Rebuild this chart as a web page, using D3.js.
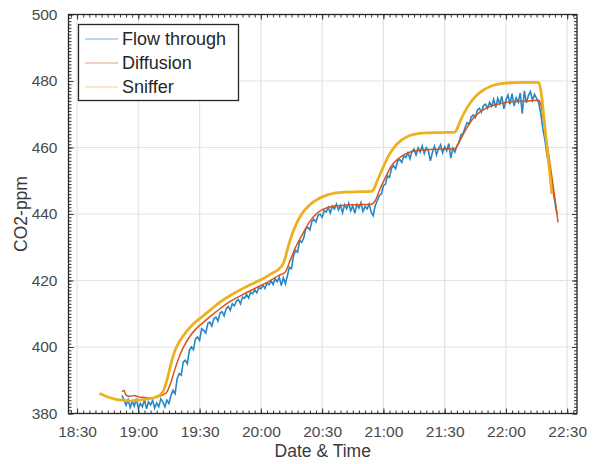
<!DOCTYPE html>
<html><head><meta charset="utf-8">
<script src="https://cdn.jsdelivr.net/npm/d3@7"></script>
<style>
body{margin:0;background:#fff}
svg{display:block}
text{font-family:"Liberation Sans",Arial,Helvetica,sans-serif}
</style>
</head><body>
<svg id="chart" width="597" height="464"></svg>
<script>
// ---------------- DATA ----------------
const seriesNames = ["Flow through", "Diffusion", "Sniffer"];
const seriesColors = ["#0072BD", "#D95319", "#EDB120"];
const xTickLabels = ["18:30","19:00","19:30","20:00","20:30","21:00","21:30","22:00","22:30"];
const yTickValues = [380, 400, 420, 440, 460, 480, 500];
const xDomain = ["18:25.8", "22:34.8"];
const yDomain = [380, 500];

// Flow through: one reading per minute starting at flowStart
const flowStart = "18:52";
const flowValues = [
  385.5, 384.0, 382.5, 384.2, 381.8, 383.6, 382.2, 384.5, 381.5, 383.0,
  382.0, 384.2, 381.4, 383.5, 382.6, 384.0, 381.6, 383.2, 382.0, 384.4,
  383.5, 382.0, 384.0, 383.0, 385.5, 387.0, 386.0, 390.5, 392.0, 391.5,
  395.5, 396.0, 395.0, 399.0, 400.0, 399.2, 402.5, 403.0, 402.0, 405.5,
  405.0, 404.2, 407.0, 407.5, 406.3, 408.6, 409.0, 407.8, 410.2, 410.6,
  409.4, 411.5, 412.2, 411.0, 413.0, 412.4, 413.8, 414.3, 413.0, 415.0,
  414.6, 415.8, 414.7, 416.5, 416.0, 417.2, 416.3, 417.8, 417.5, 418.6,
  417.6, 419.2, 418.7, 419.9, 418.8, 420.5, 419.6, 421.0, 418.5, 420.8,
  419.0, 421.5, 424.0, 423.5, 427.5, 429.0, 428.5, 432.0, 431.5, 432.8,
  435.5, 436.0, 435.2, 437.8, 438.4, 437.6, 439.6, 440.0, 439.0, 441.0,
  440.6, 442.0, 440.3, 442.4, 441.5, 443.0, 441.2, 442.6, 440.4, 442.8,
  441.6, 443.2, 441.0, 442.5, 440.2, 442.9, 441.8, 443.4, 440.8, 442.3,
  441.5, 443.0, 440.6, 439.5, 442.5, 444.0, 445.5, 446.0, 448.5, 449.0,
  451.5, 451.0, 453.8, 454.5, 453.6, 456.0, 456.4, 455.5, 457.5, 457.0,
  458.4, 456.6, 458.8, 459.5, 457.8, 459.9, 458.6, 460.5, 458.2, 460.0,
  459.0, 456.0, 458.5, 460.4, 457.8, 459.6, 460.8, 458.4, 460.2, 459.0,
  461.2, 456.8, 459.8, 458.6, 460.5, 461.5, 463.8, 464.2, 466.0, 467.5,
  467.0, 469.2, 469.8, 469.0, 471.2, 471.8, 470.6, 472.6, 473.0, 471.8,
  473.6, 472.4, 474.5, 472.0, 474.8, 473.2, 475.4, 471.6, 474.2, 475.8,
  473.0, 476.2, 472.5, 475.0, 473.6, 476.4, 470.2, 477.0, 473.4, 475.6,
  476.8, 474.2, 476.0, 474.8, 473.5, 470.5, 466.0, 462.5, 458.0, 455.0,
  450.5, 447.5, 443.5, 440.0
];

const diffusionTimes = [
  "18:52","18:53","18:54","18:56","18:58","19:00","19:03","19:06","19:09","19:12",
  "19:14","19:16","19:18","19:20","19:22","19:25","19:28","19:32","19:36","19:40",
  "19:45","19:50","19:55","20:00","20:05","20:09","20:11","20:12","20:14","20:17",
  "20:20","20:24","20:28","20:32","20:36","20:42","20:48","20:54","20:56","20:58",
  "21:01","21:04","21:07","21:10","21:14","21:20","21:28","21:35","21:37","21:40",
  "21:44","21:48","21:52","21:58","22:04","22:10","22:16","22:17","22:19","22:21",
  "22:23","22:25","22:25.5"
];
const diffusionValues = [
  386.5, 387.0, 385.5, 385.2, 385.4, 385.0, 384.8, 384.6, 384.9, 385.6,
  386.5, 389.5, 393.5, 397.0, 399.8, 403.0, 405.3, 407.5, 409.6, 411.5,
  413.7, 415.4, 417.0, 418.5, 420.1, 421.6, 422.1, 422.6, 425.5, 430.0,
  433.5, 437.8, 440.5, 441.8, 442.4, 442.7, 442.8, 442.9, 444.0, 447.0,
  451.0, 454.5, 456.5, 457.8, 458.8, 459.3, 459.5, 459.6, 461.5, 465.0,
  468.8, 471.0, 472.3, 473.3, 473.8, 474.0, 474.2, 473.0, 466.0, 457.5,
  449.0, 440.0, 437.5
];

const snifferTimes = [
  "18:41","18:44","18:48","18:52","18:56","19:00","19:04","19:08","19:11","19:12",
  "19:14","19:16","19:18","19:20","19:24","19:28","19:32","19:36","19:40","19:45",
  "19:50","19:55","20:00","20:05","20:10","20:11","20:12","20:14","20:17","20:20",
  "20:24","20:28","20:32","20:36","20:42","20:48","20:54","20:55","20:57","21:00",
  "21:03","21:06","21:09","21:13","21:17","21:22","21:28","21:35","21:36","21:38",
  "21:41","21:45","21:49","21:53","21:58","22:04","22:10","22:16","22:17","22:19",
  "22:21","22:22.5"
];
const snifferValues = [
  386.0, 385.2, 384.4, 384.0, 383.8, 384.0, 384.3, 384.8, 385.8, 386.5,
  390.0, 395.0, 399.0, 401.5, 405.0, 407.5, 409.5, 411.5, 413.5, 415.5,
  417.2, 418.8, 420.2, 422.0, 424.2, 425.2, 427.0, 431.5, 436.5, 440.0,
  442.8, 444.5, 445.6, 446.3, 446.6, 446.7, 446.8, 447.2, 450.0, 454.2,
  458.0, 460.6, 462.3, 463.6, 464.2, 464.4, 464.5, 464.6, 465.5, 468.5,
  472.0, 475.3, 477.3, 478.5, 479.2, 479.5, 479.6, 479.6, 477.5, 466.5,
  455.0, 446.0
];

// ---------------- HELPERS ----------------
function parseT(s) {
  const [h, m] = s.split(":").map(Number);
  return new Date(2018, 0, 1, h, 0, 0, Math.round(m * 60000));
}
const flowT0 = parseT(flowStart);
const flowData = flowValues.map((v, i) => ({ t: d3.timeMinute.offset(flowT0, i), v }));
const diffData = diffusionTimes.map((s, i) => ({ t: parseT(s), v: diffusionValues[i] }));
const sniffData = snifferTimes.map((s, i) => ({ t: parseT(s), v: snifferValues[i] }));

// ---------------- LAYOUT ----------------
const L = 68.5, R = 577, T = 14.5, B = 413.5;
const svg = d3.select("#chart");
const x = d3.scaleTime().domain(xDomain.map(parseT)).range([L, R]);
const y = d3.scaleLinear().domain(yDomain).range([B, T]);

svg.append("rect").attr("width", 597).attr("height", 464).attr("fill", "#fff");

// grid
const xMajor = xTickLabels.map(parseT);
const g = svg.append("g");
g.selectAll("line.gx").data(xMajor).join("line")
  .attr("x1", d => x(d)).attr("x2", d => x(d)).attr("y1", T).attr("y2", B)
  .attr("stroke", "#e3e3e3").attr("stroke-width", 1.2);
g.selectAll("line.gy").data(yTickValues).join("line")
  .attr("y1", d => y(d)).attr("y2", d => y(d)).attr("x1", L).attr("x2", R)
  .attr("stroke", "#e3e3e3").attr("stroke-width", 1.2);

// clip
svg.append("clipPath").attr("id", "clip").append("rect")
  .attr("x", L).attr("y", T).attr("width", R - L).attr("height", B - T);

const line = d3.line().x(d => x(d.t)).y(d => y(d.v));
const smooth = d3.line().x(d => x(d.t)).y(d => y(d.v)).curve(d3.curveMonotoneX);
const plot = svg.append("g").attr("clip-path", "url(#clip)");
plot.append("path").datum(flowData).attr("d", line)
  .attr("fill", "none").attr("stroke", seriesColors[0]).attr("stroke-width", 1.6).attr("stroke-opacity", 0.85);
plot.append("path").datum(diffData).attr("d", smooth)
  .attr("fill", "none").attr("stroke", seriesColors[1]).attr("stroke-width", 1.5);
plot.append("path").datum(sniffData).attr("d", smooth)
  .attr("fill", "none").attr("stroke", seriesColors[2]).attr("stroke-width", 2.8);

// axes: minor ticks (inward) on all sides
const tickCol = "#333";
const xMinor = d3.timeMinute.every(3).range(parseT(xDomain[0]), parseT(xDomain[1]));
const yMinor = d3.range(yDomain[0], yDomain[1] + 1, 1);

function styleAxis(sel) {
  sel.select(".domain").remove();
  sel.selectAll(".tick line").attr("stroke", tickCol).attr("stroke-width", 1);
  sel.selectAll(".tick text").attr("fill", "#4a4a4a").style("font-size", "15.5px")
    .style("font-family", '"Liberation Sans", Arial, sans-serif');
}

svg.append("g").attr("transform", `translate(0,${B})`)
  .call(d3.axisBottom(x).tickValues(xMinor).tickFormat("").tickSizeInner(-3).tickSizeOuter(0)).call(styleAxis);
svg.append("g").attr("transform", `translate(0,${T})`)
  .call(d3.axisTop(x).tickValues(xMinor).tickFormat("").tickSizeInner(-3).tickSizeOuter(0)).call(styleAxis);
svg.append("g").attr("transform", `translate(${L},0)`)
  .call(d3.axisLeft(y).tickValues(yMinor).tickFormat("").tickSizeInner(-3).tickSizeOuter(0)).call(styleAxis);
svg.append("g").attr("transform", `translate(${R},0)`)
  .call(d3.axisRight(y).tickValues(yMinor).tickFormat("").tickSizeInner(-3).tickSizeOuter(0)).call(styleAxis);

// major ticks with labels
svg.append("g").attr("transform", `translate(0,${B})`)
  .call(d3.axisBottom(x).tickValues(xMajor).tickFormat(d3.timeFormat("%H:%M")).tickSizeInner(-5).tickSizeOuter(0).tickPadding(12))
  .call(styleAxis);
svg.append("g").attr("transform", `translate(0,${T})`)
  .call(d3.axisTop(x).tickValues(xMajor).tickFormat("").tickSizeInner(-5).tickSizeOuter(0)).call(styleAxis);
svg.append("g").attr("transform", `translate(${L},0)`)
  .call(d3.axisLeft(y).tickValues(yTickValues).tickFormat(d3.format("d")).tickSizeInner(-5).tickSizeOuter(0).tickPadding(11))
  .call(styleAxis);
svg.append("g").attr("transform", `translate(${R},0)`)
  .call(d3.axisRight(y).tickValues(yTickValues).tickFormat("").tickSizeInner(-5).tickSizeOuter(0)).call(styleAxis);

// box
svg.append("rect").attr("x", L).attr("y", T).attr("width", R - L).attr("height", B - T)
  .attr("fill", "none").attr("stroke", "#262626").attr("stroke-width", 1.3);

// axis labels
svg.append("text").attr("x", (L + R) / 2).attr("y", 457).attr("text-anchor", "middle")
  .attr("fill", "#3a3a3a").style("font-size", "17.5px").text("Date & Time");
svg.append("text").attr("transform", `translate(27,${(T + B) / 2}) rotate(-90)`).attr("text-anchor", "middle")
  .attr("fill", "#3a3a3a").style("font-size", "17.5px").text("CO2-ppm");

// legend
const lg = svg.append("g");
lg.append("rect").attr("x", 78.5).attr("y", 24.5).attr("width", 160).attr("height", 76)
  .attr("fill", "#fff").attr("stroke", "#262626").attr("stroke-width", 1.3);
seriesNames.forEach((name, i) => {
  const cy = 39 + i * 24;
  lg.append("line").attr("x1", 85).attr("x2", 118).attr("y1", cy).attr("y2", cy)
    .attr("stroke", seriesColors[i]).attr("stroke-width", 1).attr("stroke-opacity", 0.55);
  lg.append("text").attr("x", 122).attr("y", cy).attr("dy", "0.36em")
    .attr("fill", "#262626").style("font-size", "18px").text(name);
});
</script>
</body></html>
